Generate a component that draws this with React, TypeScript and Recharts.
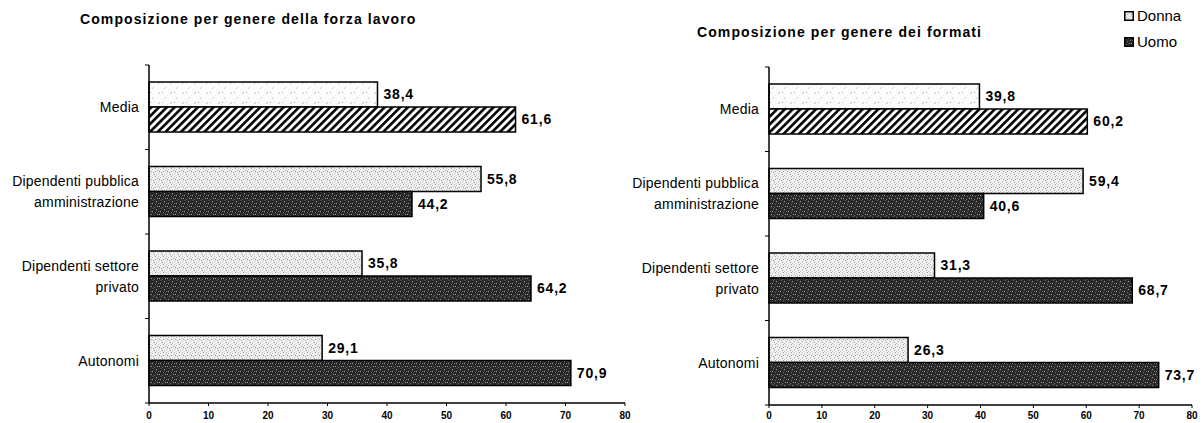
import { BarChart, Bar, XAxis, YAxis, Cell, LabelList } from "recharts";

const categories = [
  "Media",
  "Dipendenti pubblica\namministrazione",
  "Dipendenti settore\nprivato",
  "Autonomi",
];
const forzaDonna = [38.4, 55.8, 35.8, 29.1];
const forzaUomo = [61.6, 44.2, 64.2, 70.9];
const formatiDonna = [39.8, 59.4, 31.3, 26.3];
const formatiUomo = [60.2, 40.6, 68.7, 73.7];
const xTicks = [0, 10, 20, 30, 40, 50, 60, 70, 80];

const FONT = '"Liberation Sans", Arial, sans-serif';

const fmt = (v: any) => Number(v).toFixed(1).replace(".", ",");

// stipple dot positions for the fill patterns
const lightDots = [
  [0, 1], [3, 0], [5, 2], [1, 4], [6, 5], [2, 6], [4, 7], [7, 3], [6, 0], [3, 3],
];
const darkDots = [
  [1, 0], [4, 1], [6, 3], [0, 3], [3, 4], [7, 6], [2, 7], [5, 6],
];

function Patterns() {
  return (
    <defs>
      <pattern id="donnaDots" width="8" height="8" patternUnits="userSpaceOnUse">
        <rect width="8" height="8" fill="#efefef" />
        {lightDots.map(([x, y], i) => (
          <rect key={i} x={x} y={y} width="1" height="1" fill={i % 2 ? "#9c9c9c" : "#c0c0c0"} />
        ))}
      </pattern>
      <pattern id="uomoDots" width="8" height="8" patternUnits="userSpaceOnUse">
        <rect width="8" height="8" fill="#2a2a2a" />
        {darkDots.map(([x, y], i) => (
          <rect key={i} x={x} y={y} width="1" height="1" fill={i % 2 ? "#9a9a9a" : "#6a6a6a"} />
        ))}
      </pattern>
      <pattern id="mediaDonna" width="12" height="10" patternUnits="userSpaceOnUse">
        <rect width="12" height="10" fill="#fcfcfc" />
        <line x1="2" y1="4" x2="4" y2="2" stroke="#b0b0b0" strokeWidth="0.8" />
        <line x1="8" y1="9" x2="10" y2="7" stroke="#c0c0c0" strokeWidth="0.8" />
        <rect x="6" y="2" width="1" height="1" fill="#aaa" />
      </pattern>
      <pattern
        id="hatch"
        width="5.5"
        height="5.5"
        patternUnits="userSpaceOnUse"
        patternTransform="rotate(45)"
      >
        <rect width="5.5" height="5.5" fill="#fff" />
        <rect width="2.6" height="5.5" fill="#000" />
      </pattern>
    </defs>
  );
}

function CategoryTick(props: any) {
  const { x, y, payload, index, band } = props;
  const lines = String(payload.value).split("\n");
  const lh = 21;
  const startY = y - ((lines.length - 1) * lh) / 2;
  return (
    <g>
      <line x1={x - 4} x2={x} y1={y - band / 2} y2={y - band / 2} stroke="#000" strokeWidth={1} />
      {index === categories.length - 1 && (
        <line x1={x - 4} x2={x} y1={y + band / 2} y2={y + band / 2} stroke="#000" strokeWidth={1} />
      )}
      <text
        x={x - 10}
        y={startY}
        textAnchor="end"
        dominantBaseline="central"
        fontSize={14}
        letterSpacing={0.2}
        fill="#000"
        fontFamily={FONT}
      >
        {lines.map((l, i) => (
          <tspan key={i} x={x - 10} dy={i === 0 ? 0 : lh}>
            {l}
          </tspan>
        ))}
      </text>
    </g>
  );
}

interface PanelProps {
  donna: number[];
  uomo: number[];
  width: number;
  top: number;
  right: number;
  xHeight: number;
  tickGap: number;
  withDefs?: boolean;
}

const HEIGHT = 423;

function Panel({ donna, uomo, width, top, right, xHeight, tickGap, withDefs }: PanelProps) {
  const data = categories.map((c, i) => ({ name: c, donna: donna[i], uomo: uomo[i] }));
  const band = (HEIGHT - top - xHeight) / categories.length;
  const labelStyle = { fontSize: 14, fontWeight: 700, letterSpacing: 0.8, fontFamily: FONT };
  return (
    <BarChart
      width={width}
      height={HEIGHT}
      data={data}
      layout="vertical"
      margin={{ top, right, bottom: 0, left: 0 }}
      barGap={0}
    >
      {withDefs && <Patterns />}
      <XAxis
        type="number"
        domain={[0, 80]}
        ticks={xTicks}
        height={xHeight}
        interval={0}
        axisLine={{ stroke: "#000", strokeWidth: 1.5 }}
        tickLine={{ stroke: "#000" }}
        tickSize={3}
        tickMargin={tickGap}
        tick={{ fill: "#000", fontSize: 10, fontWeight: 700, fontFamily: FONT }}
      />
      <YAxis
        type="category"
        dataKey="name"
        width={149}
        axisLine={{ stroke: "#000", strokeWidth: 1.5 }}
        tickLine={false}
        tickSize={0}
        tickMargin={0}
        interval={0}
        tick={<CategoryTick band={band} />}
      />
      <Bar dataKey="donna" barSize={25} stroke="#000" strokeWidth={1.5} isAnimationActive={false}>
        {data.map((_, i) => (
          <Cell key={i} fill={i === 0 ? "url(#mediaDonna)" : "url(#donnaDots)"} />
        ))}
        <LabelList dataKey="donna" position="right" offset={6} formatter={fmt} fill="#000" style={labelStyle} />
      </Bar>
      <Bar dataKey="uomo" barSize={25} stroke="#000" strokeWidth={1.5} isAnimationActive={false}>
        {data.map((_, i) => (
          <Cell key={i} fill={i === 0 ? "url(#hatch)" : "url(#uomoDots)"} />
        ))}
        <LabelList dataKey="uomo" position="right" offset={6} formatter={fmt} fill="#000" style={labelStyle} />
      </Bar>
    </BarChart>
  );
}

const titleStyle: React.CSSProperties = {
  position: "absolute",
  fontFamily: FONT,
  fontWeight: 700,
  fontSize: 14,
  letterSpacing: 1.1,
  whiteSpace: "nowrap",
  lineHeight: "16px",
  color: "#000",
};

export default function App() {
  return (
    <div style={{ position: "relative", width: 1203, height: 423, background: "#fff", overflow: "hidden" }}>
      <style>{`body{margin:0}`}</style>
      <div style={{ position: "absolute", left: 0, top: 0 }}>
        <Panel donna={forzaDonna} uomo={forzaUomo} width={640} top={65} right={15} xHeight={20} tickGap={6} withDefs />
      </div>
      <div style={{ position: "absolute", left: 620, top: 0 }}>
        <Panel donna={formatiDonna} uomo={formatiUomo} width={583} top={67} right={11} xHeight={18} tickGap={4} />
      </div>
      <div style={{ ...titleStyle, left: 80, top: 11 }}>Composizione per genere della forza lavoro</div>
      <div style={{ ...titleStyle, left: 697, top: 24 }}>Composizione per genere dei formati</div>
      <div style={{ position: "absolute", left: 1124, top: 3, fontFamily: FONT, fontSize: 15, lineHeight: "20px" }}>
        {[
          { name: "Donna", fill: "url(#donnaDots)" },
          { name: "Uomo", fill: "url(#uomoDots)" },
        ].map((it) => (
          <div key={it.name} style={{ display: "flex", alignItems: "center", height: 26 }}>
            <svg width={10} height={10} style={{ marginRight: 3 }}>
              <rect x={0.75} y={0.75} width={8.5} height={8.5} fill={it.fill} stroke="#000" strokeWidth={1.5} />
            </svg>
            <span>{it.name}</span>
          </div>
        ))}
      </div>
    </div>
  );
}
